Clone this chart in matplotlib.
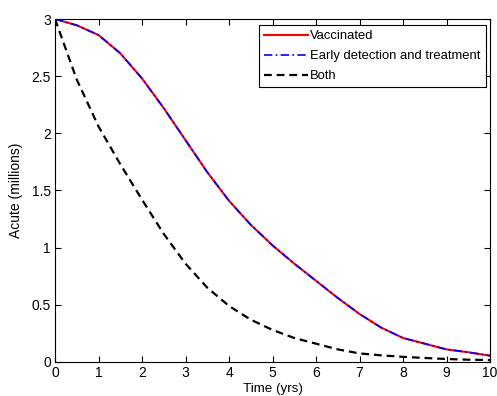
import matplotlib
matplotlib.use("Agg")
import matplotlib.pyplot as plt

plt.rcParams['font.family'] = ['Liberation Sans', 'DejaVu Sans']

# values (millions)
t_years = [0, 0.5, 1, 1.5, 2, 2.5, 3, 3.5, 4, 4.5, 5,
           5.5, 6, 6.5, 7, 7.5, 8, 8.5, 9, 9.5, 10]
vaccinated = [3.0, 2.945, 2.86, 2.70, 2.48, 2.22, 1.94, 1.66, 1.41, 1.20, 1.02,
              0.86, 0.71, 0.56, 0.42, 0.30, 0.21, 0.16, 0.11, 0.085, 0.055]
early_detection = [3.0, 2.945, 2.86, 2.70, 2.48, 2.22, 1.94, 1.66, 1.41, 1.20, 1.02,
                   0.86, 0.71, 0.56, 0.42, 0.30, 0.21, 0.16, 0.11, 0.085, 0.055]
both = [3.0, 2.47, 2.06, 1.73, 1.42, 1.12, 0.86, 0.65, 0.49, 0.37, 0.28,
        0.21, 0.16, 0.11, 0.075, 0.058, 0.045, 0.035, 0.026, 0.02, 0.017]

fig = plt.figure(figsize=(4.97, 3.96), dpi=100)
ax = fig.add_axes([0.1107, 0.0859, 0.8753, 0.8661])

ax.plot(t_years, vaccinated, color='red', lw=1.5, label='Vaccinated')
ax.plot(t_years, early_detection, color='blue', lw=1.2, linestyle=(0, (5, 2, 1, 2)),
        label='Early detection and treatment')
ax.plot(t_years, both, color='black', lw=1.6, linestyle=(0, (3.5, 2.2)), label='Both')

ax.set_xlim(0, 10)
ax.set_ylim(0, 3)
ax.set_xticks(range(0, 11))
ax.set_yticks([0, 0.5, 1, 1.5, 2, 2.5, 3])
ax.set_yticklabels(['0', '0.5', '1', '1.5', '2', '2.5', '3'])
ax.tick_params(direction='in', top=True, right=True, length=4, width=0.8,
               labelsize=10, colors='black', pad=3)
for s in ax.spines.values():
    s.set_linewidth(0.8)

ax.set_xlabel('Time (yrs)', fontsize=9.6, labelpad=2)
ax.set_ylabel('Acute (millions)', fontsize=10, labelpad=6)

leg = ax.legend(loc='upper right', bbox_to_anchor=(0.99, 0.983), fontsize=9.4,
                frameon=True, fancybox=False, edgecolor='black', framealpha=1,
                borderaxespad=0, handlelength=3.4, handletextpad=0.15,
                borderpad=0.4, labelspacing=0.6)
leg.get_frame().set_linewidth(0.8)

fig.savefig('out.png', dpi=100)
